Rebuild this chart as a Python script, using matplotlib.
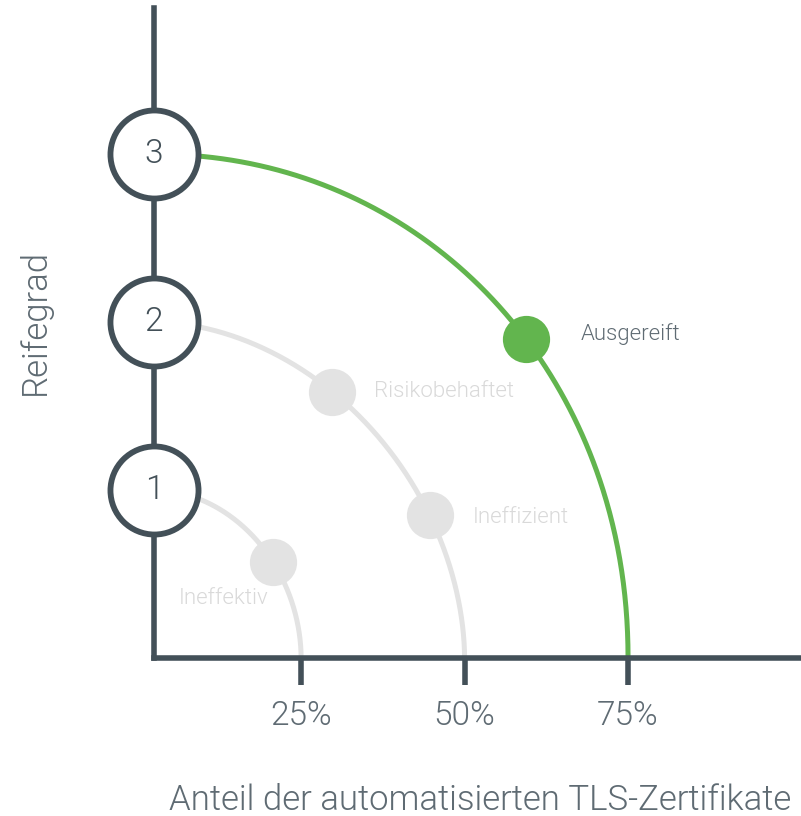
import matplotlib.pyplot as plt
import numpy as np

plt.rcParams['font.family'] = ['Roboto', 'DejaVu Sans']

# Daten
stufen = [1, 2, 3]
anteil_grenze = [25, 50, 75]          # Ende der Bögen in %
bogen_farbe = ['#e3e3e3', '#e3e3e3', '#62b54e']
x_ticks = [25, 50, 75]
x_tick_labels = ['25%', '50%', '75%']

punkt_stufe = [1, 2, 2, 3]            # auf welchem Bogen der Punkt liegt
punkt_anteil = [20.7, 29.7, 44.7, 59.4]
punkt_reife = [0.571, 1.585, 0.851, 1.899]
punkt_label = ['Ineffektiv', 'Risikobehaftet', 'Ineffizient', 'Ausgereift']
punkt_farbe = ['#e3e3e3', '#e3e3e3', '#e3e3e3', '#62b54e']
label_farbe = ['#d9d9d9', '#d9d9d9', '#d9d9d9', '#5f6b73']
label_offset = [(-68, -30), (30, -4), (31, -6), (39.5, -0.7)]

x0 = 2.5  # Lage der y-Achse in %
dunkel = '#435058'
grau = '#5f6b73'

fig = plt.figure(figsize=(8.01, 8.16), dpi=100)
ax = fig.add_axes([154 / 801, 158 / 816, 646 / 801, 650 / 816])
ax.set_xlim(x0, 101.3)
ax.set_ylim(0, 3.87)

for s in ['top', 'right']:
    ax.spines[s].set_visible(False)
for s in ['left', 'bottom']:
    ax.spines[s].set_color(dunkel)
    ax.spines[s].set_linewidth(4.0)

# Bögen: Superellipse um den Ursprung, Exponent so gewählt, dass sie durch die Punkte läuft
t = np.linspace(0, np.pi / 2, 400)
n_grid = np.linspace(1.5, 3.0, 301)
for st, g, c in zip(stufen, anteil_grenze, bogen_farbe):
    idx = [i for i, p in enumerate(punkt_stufe) if p == st]
    u = np.array([(punkt_anteil[i] - x0) / (g - x0) for i in idx])
    v = np.array([punkt_reife[i] / st for i in idx])
    err = [np.sum((u ** n + v ** n - 1) ** 2) for n in n_grid]
    n = n_grid[int(np.argmin(err))]
    xs = x0 + (g - x0) * np.cos(t) ** (2 / n)
    ys = st * np.sin(t) ** (2 / n)
    ax.plot(xs, ys, color=c, lw=3.6, solid_capstyle='butt', zorder=2, clip_on=False)

# Punkte auf den Bögen
for a, r, lab, c, lc, off in zip(punkt_anteil, punkt_reife, punkt_label,
                                 punkt_farbe, label_farbe, label_offset):
    ax.plot(a, r, 'o', ms=34, color=c, mec='none', zorder=3)
    ax.annotate(lab, (a, r), xytext=off, textcoords='offset points',
                fontsize=16, fontweight=300, color=lc, va='baseline', ha='left')

# Stufenkreise
for st in stufen:
    ax.plot(x0, st, 'o', ms=63.4, mfc='white', mec=dunkel, mew=4.2,
            zorder=5, clip_on=False)
    ax.text(x0, st, str(st), fontsize=24, fontweight=300, color=dunkel,
            ha='center', va='center', zorder=6)

ax.set_yticks([])
ax.set_xticks(x_ticks)
ax.set_xticklabels(x_tick_labels)
ax.tick_params(axis='x', length=19.5, width=4.0, color=dunkel, pad=11,
               labelsize=24, labelcolor=grau, direction='out')
for lbl in ax.get_xticklabels():
    lbl.set_fontweight(300)

fig.text(35 / 801, 1 - 322 / 816, 'Reifegrad', rotation=90, fontsize=25,
         fontweight=300, color=grau, ha='center', va='center')
fig.text(480 / 801, 1 - 800 / 816, 'Anteil der automatisierten TLS-Zertifikate',
         fontsize=25, fontweight=300, color=grau, ha='center', va='center')

fig.savefig('out.png', dpi=100, facecolor='white')
